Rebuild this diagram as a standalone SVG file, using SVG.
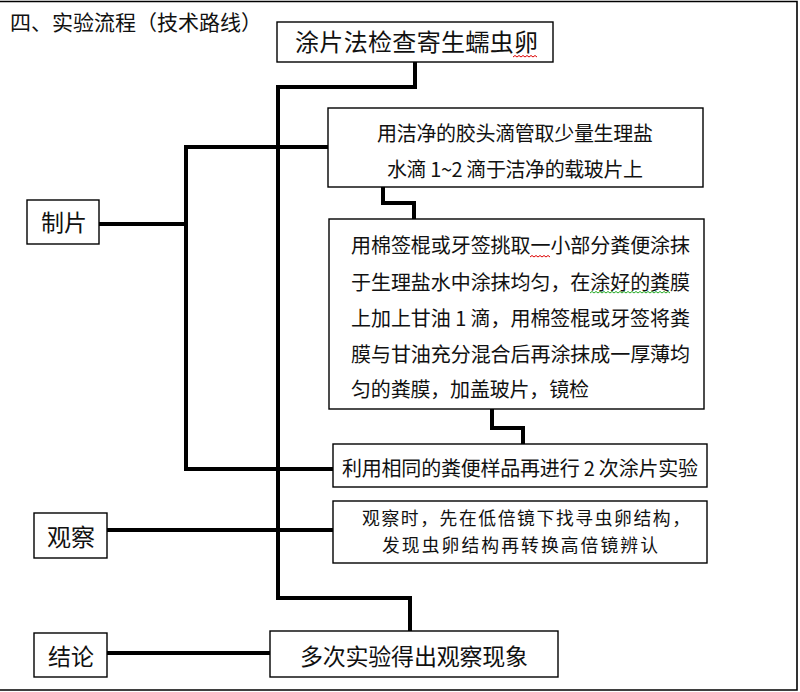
<svg xmlns="http://www.w3.org/2000/svg" width="800" height="692" viewBox="0 0 800 692">
<style>
text{font-family:"Noto Sans CJK SC","Liberation Serif",serif;fill:#111;}
.box{fill:#fff;stroke:#000;stroke-width:1.4;}
.con{fill:none;stroke:#000;stroke-width:4;stroke-linejoin:miter;stroke-linecap:square;}
.wavy{fill:none;stroke-width:1;}
</style>
<rect width="800" height="692" fill="#fff"/>
<polyline points="0,1.5 797,1.5 797,690 0,690" fill="none" stroke="#000" stroke-width="1.6"/>
<text x="10" y="30" font-size="21">四、实验流程（技术路线）</text>

<g id="connectors">
  <polyline class="con" points="415,62 415,87 278,87 278,598 410,598 410,631"/>
  <polyline class="con" points="328,147 186,147 186,469 333,469"/>
  <line class="con" x1="99" y1="224" x2="186" y2="224"/>
  <line class="con" x1="107" y1="530" x2="333" y2="530"/>
  <line class="con" x1="107" y1="653" x2="270" y2="653"/>
  <polyline class="con" points="383,187 383,203 414,203 414,219"/>
  <polyline class="con" points="492,409 492,428 523,428 523,444"/>
</g>

<g id="title">
  <rect class="box" x="277" y="22" width="276" height="40"/>
  <text x="295" y="51" font-size="24" textLength="243">涂片法检查寄生蠕虫卵</text>
  <path class="wavy" stroke="#d00" d="M513,57 l2,-1.5 l2,1.5 l2,-1.5 l2,1.5 l2,-1.5 l2,1.5 l2,-1.5 l2,1.5 l2,-1.5 l2,1.5 l2,-1.5 l2,1.5"/>
</g>

<g id="zhipian">
  <rect class="box" x="27" y="200" width="72" height="44"/>
  <text x="41" y="231" font-size="23">制片</text>
</g>

<g id="step1">
  <rect class="box" x="328" y="108" width="375" height="79"/>
  <text x="377" y="141" font-size="20" textLength="276">用洁净的胶头滴管取少量生理盐</text>
  <text x="387" y="177" font-size="20" textLength="256">水滴 1~2 滴于洁净的载玻片上</text>
</g>

<g id="step2">
  <rect class="box" x="329" y="219" width="375" height="190"/>
  <text x="351" y="253" font-size="20" textLength="339">用棉签棍或牙签挑取一小部分粪便涂抹</text>
  <text x="351" y="290" font-size="20" textLength="339">于生理盐水中涂抹均匀，在涂好的粪膜</text>
  <text x="351" y="326" font-size="20" textLength="339">上加上甘油 1 滴，用棉签棍或牙签将粪</text>
  <text x="351" y="362" font-size="20" textLength="339">膜与甘油充分混合后再涂抹成一厚薄均</text>
  <text x="351" y="397" font-size="20" textLength="238">匀的粪膜，加盖玻片，镜检</text>
  <path class="wavy" stroke="#d00" d="M530,257 l2,-1.5 l2,1.5 l2,-1.5 l2,1.5 l2,-1.5 l2,1.5 l2,-1.5 l2,1.5 l2,-1.5 l2,1.5"/>
  <path class="wavy" stroke="#2a2" d="M590,293 l2,-1.5 l2,1.5 l2,-1.5 l2,1.5 l2,-1.5 l2,1.5 l2,-1.5 l2,1.5 l2,-1.5 l2,1.5 l2,-1.5 l2,1.5 l2,-1.5 l2,1.5 l2,-1.5 l2,1.5 l2,-1.5 l2,1.5 l2,-1.5 l2,1.5 l2,-1.5 l2,1.5 l2,-1.5 l2,1.5 l2,-1.5 l2,1.5 l2,-1.5 l2,1.5 l2,-1.5 l2,1.5 l2,-1.5 l2,1.5 l2,-1.5 l2,1.5 l2,-1.5 l2,1.5 l2,-1.5 l2,1.5 l2,-1.5 l2,1.5"/>
</g>

<g id="step3">
  <rect class="box" x="333" y="444" width="374" height="43"/>
  <text x="342" y="476" font-size="20" textLength="356">利用相同的粪便样品再进行 2 次涂片实验</text>
</g>

<g id="guancha">
  <rect class="box" x="34" y="513" width="73" height="45"/>
  <text x="47" y="546" font-size="24">观察</text>
</g>

<g id="step4">
  <rect class="box" x="333" y="501" width="374" height="62"/>
  <text x="362" y="525" font-size="17.8" textLength="328">观察时，先在低倍镜下找寻虫卵结构，</text>
  <text x="382" y="551.5" font-size="17.8" textLength="276">发现虫卵结构再转换高倍镜辨认</text>
</g>

<g id="jielun">
  <rect class="box" x="34" y="633" width="73" height="44"/>
  <text x="48" y="665" font-size="23">结论</text>
</g>

<g id="conclusion">
  <rect class="box" x="270" y="631" width="288" height="46"/>
  <text x="300" y="665" font-size="23" textLength="228">多次实验得出观察现象</text>
</g>
</svg>
